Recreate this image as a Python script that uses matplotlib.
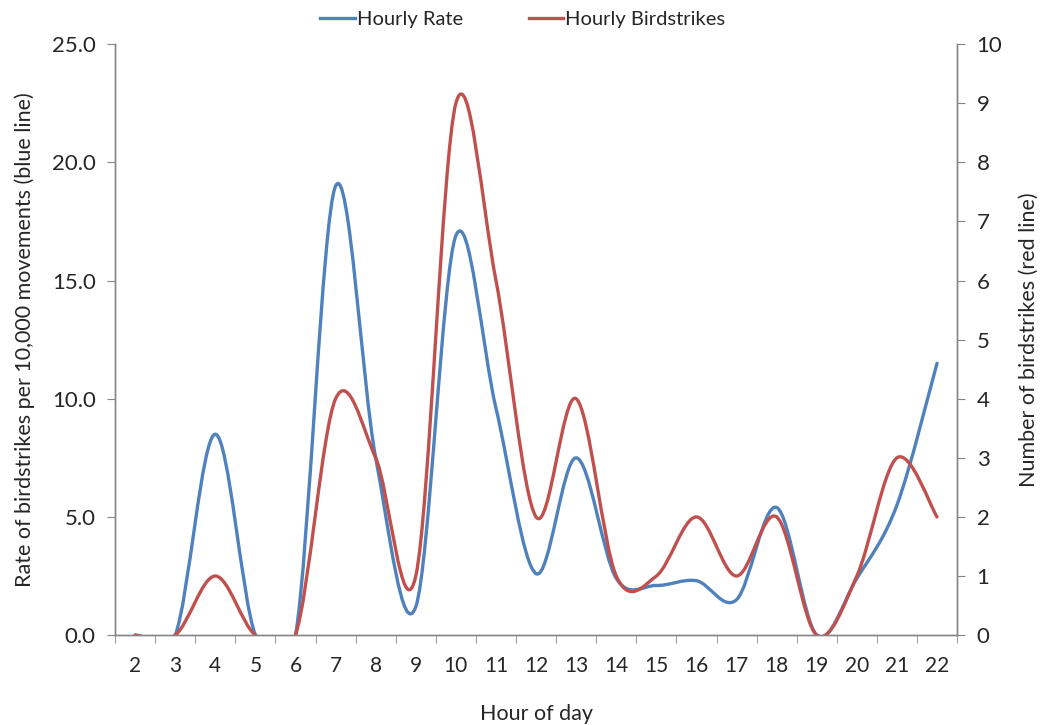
import matplotlib
matplotlib.use("Agg")
import matplotlib.pyplot as plt
from matplotlib.path import Path
from matplotlib.patches import PathPatch
from matplotlib.lines import Line2D

# data
hours = list(range(2, 23))
hourly_rate = [0, 0, 8.5, 0, 0, 19.0, 7.5, 1.2, 16.9, 9.6, 2.6, 7.5, 2.4, 2.1,
               2.3, 1.5, 5.4, 0, 2.4, 5.5, 11.5]
hourly_birdstrikes = [0, 0, 1, 0, 0, 4, 3, 1, 9, 6, 2, 4, 1, 1, 2, 1, 2, 0, 1, 3, 2]

blue = "#4F81BD"
red = "#C0504D"
grey = "#868686"
text_col = "#262626"

plt.rcParams["font.family"] = ["Lato", "DejaVu Sans"]


def smooth_path(xs, ys):
    # Excel-style smoothed line: cubic bezier through the points
    n = len(xs)
    verts = [(xs[0], ys[0])]
    codes = [Path.MOVETO]
    for i in range(n - 1):
        x0, y0 = xs[max(i - 1, 0)], ys[max(i - 1, 0)]
        x1, y1 = xs[i], ys[i]
        x2, y2 = xs[i + 1], ys[i + 1]
        x3, y3 = xs[min(i + 2, n - 1)], ys[min(i + 2, n - 1)]
        c1 = (x1 + (x2 - x0) / 6, y1 + (y2 - y0) / 6)
        c2 = (x2 - (x3 - x1) / 6, y2 - (y3 - y1) / 6)
        verts += [c1, c2, (x2, y2)]
        codes += [Path.CURVE4] * 3
    return Path(verts, codes)


fig, ax = plt.subplots(figsize=(10.46, 7.25), dpi=100)
fig.subplots_adjust(left=0.11, right=0.915, top=0.939, bottom=0.124)
ax2 = ax.twinx()

ax.add_patch(PathPatch(smooth_path(hours, hourly_rate), fill=False,
                       edgecolor=blue, lw=2.4, capstyle="round", joinstyle="round"))
ax2.add_patch(PathPatch(smooth_path(hours, hourly_birdstrikes), fill=False,
                        edgecolor=red, lw=2.4, capstyle="round", joinstyle="round"))

ax.set_xlim(1.5, 22.5)
ax.set_ylim(0, 25)
ax2.set_ylim(0, 10)

ax.set_xticks(hours)
ax.set_xticklabels([str(h) for h in hours])
ax.set_xticks([h + 0.5 for h in [1] + hours], minor=True)
ax.tick_params(axis="x", which="major", length=0, pad=15, labelsize=15, colors=text_col)
ax.tick_params(axis="x", which="minor", length=6, direction="out", color=grey)

ax.set_yticks([0, 5, 10, 15, 20, 25])
ax.set_yticklabels(["%.1f" % v for v in [0, 5, 10, 15, 20, 25]])
ax.tick_params(axis="y", length=6, direction="out", color=grey, labelsize=16,
               labelcolor=text_col, pad=8)
ax2.set_yticks(range(0, 11))
ax2.tick_params(axis="y", length=6, direction="out", color=grey, labelsize=16,
                labelcolor=text_col, pad=8)

for a in (ax, ax2):
    a.spines["top"].set_visible(False)
    for s in ("left", "right", "bottom"):
        a.spines[s].set_color(grey)
        a.spines[s].set_linewidth(1.0)

ax.set_xlabel("Hour of day", fontsize=15.5, color=text_col, labelpad=20)
ax.set_ylabel("Rate of birdstrikes per 10,000 movements (blue line)", fontsize=15.5,
              color=text_col, labelpad=12)
ax2.set_ylabel("Number of birdstrikes (red line)", fontsize=15.5, color=text_col,
               labelpad=12)

handles = [Line2D([], [], color=blue, lw=2.4), Line2D([], [], color=red, lw=2.4)]
fig.legend(handles, ["Hourly Rate", "Hourly Birdstrikes"], loc="upper center",
           bbox_to_anchor=(0.5, 1.01), ncol=2, frameon=False, fontsize=14.5,
           handlelength=1.7, handletextpad=0.1, columnspacing=3.3,
           labelcolor=text_col)

fig.savefig("out.png", dpi=100)
